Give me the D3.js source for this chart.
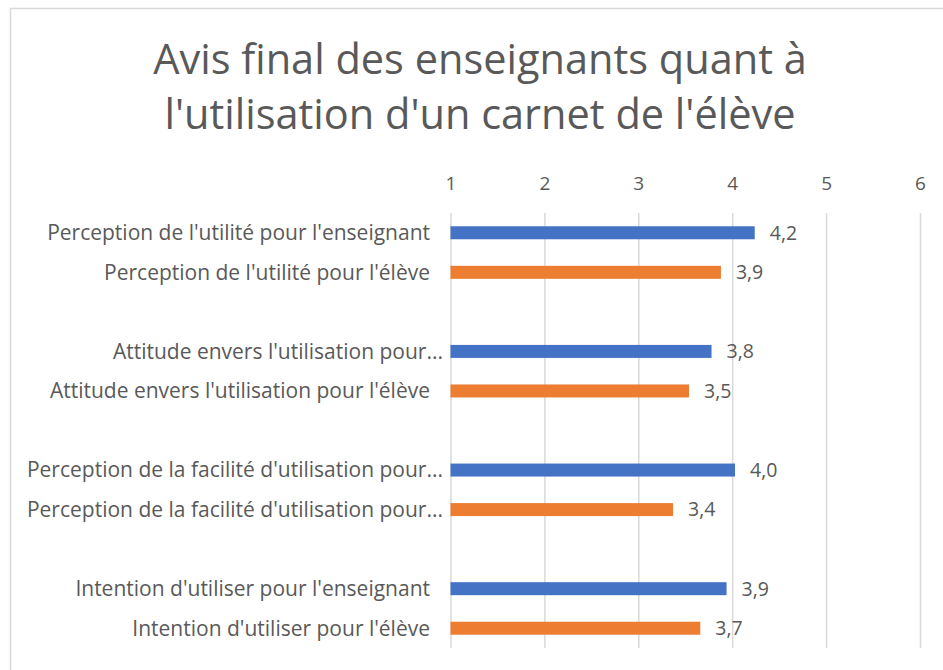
<!DOCTYPE html>
<html>
<head>
<meta charset="utf-8">
<script src="https://cdn.jsdelivr.net/npm/d3@7"></script>
<style>
  body { margin: 0; background: #fff; }
  svg { display: block; font-family: "Open Sans", Lato, sans-serif; }
</style>
</head>
<body>
<svg width="943" height="670"></svg>
<script>
// Data
const categories = [
    "Perception de l'utilité pour l'enseignant",
    "Perception de l'utilité pour l'élève",
    "Attitude envers l'utilisation pour l'enseignant",
    "Attitude envers l'utilisation pour l'élève",
    "Perception de la facilité d'utilisation pour l'enseignant",
    "Perception de la facilité d'utilisation pour l'élève",
    "Intention d'utiliser pour l'enseignant",
    "Intention d'utiliser pour l'élève"
];
const values = [4.24, 3.88, 3.78, 3.54, 4.03, 3.37, 3.94, 3.66];
const groups = [0, 0, 1, 1, 2, 2, 3, 3];          // one empty row between groups
const series = ["enseignant", "élève", "enseignant", "élève", "enseignant", "élève", "enseignant", "élève"];
const tickValues = [1, 2, 3, 4, 5, 6];
const titleLines = ["Avis final des enseignants quant à", "l'utilisation d'un carnet de l'élève"];

let svg = d3.select("svg"),
    width = +svg.attr("width"),
    height = +svg.attr("height");

const plot = { left: 450.5, right: 920, top: 213, bottom: 648 };
const textColor = "#595959";

// chart frame (only top/left visible in the shot)
svg.append("rect")
    .attr("x", 10.5).attr("y", 8.5)
    .attr("width", width).attr("height", height)
    .attr("fill", "#fff")
    .attr("stroke", "#d9d9d9")
    .attr("stroke-width", 1.5)

// Title (one text, two lines)
svg.append("text")
    .attr("text-anchor", "middle")
    .style("font-size", "41.5px")
    .style("fill", textColor)
    .selectAll("tspan")
    .data(titleLines)
    .enter()
    .append("tspan")
    .attr("x", 480)
    .attr("y", (d, i) => 74 + i * 55)
    .text(d => d)

// Scales
let x = d3.scaleLinear()
    .domain([1, 6])
    .range([plot.left, plot.right])

let rowOf = (d, i) => i + groups[i];
let nRows = categories.length + d3.max(groups);
let y = d3.scaleBand()
    .domain(d3.range(nRows))
    .range([plot.top, plot.bottom])
    .padding(0)

let color = d3.scaleOrdinal()
    .domain(["enseignant", "élève"])
    .range(["#4472C4", "#ED7D31"])

// Grid + tick labels on top
let xAxis = svg.append("g")
    .attr("transform", `translate(0,${plot.top})`)
    .call(d3.axisTop(x)
        .tickValues(tickValues)
        .tickSize(-(plot.bottom - plot.top))
        .tickPadding(23)
        .tickFormat(d3.format("d")))

xAxis.select(".domain").remove()
xAxis.selectAll("line")
    .attr("stroke", "#d9d9d9")
    .attr("stroke-width", 1.5)
xAxis.selectAll("text")
    .style("font-family", "'Open Sans', sans-serif")
    .style("font-size", "19px")
    .style("fill", textColor)

// Bars
let barH = 13;
svg.append("g")
    .selectAll("rect")
    .data(values)
    .enter()
    .append("rect")
    .attr("x", x(1))
    .attr("y", (d, i) => y(rowOf(d, i)) + y.bandwidth() / 2 - barH / 2)
    .attr("width", d => x(d) - x(1))
    .attr("height", barH)
    .attr("fill", (d, i) => color(series[i]))

// Value labels
let fmt = d => d3.format(".1f")(d).replace(".", ",");
svg.append("g")
    .selectAll("text")
    .data(values)
    .enter()
    .append("text")
    .attr("x", d => x(d) + 15)
    .attr("y", (d, i) => y(rowOf(d, i)) + y.bandwidth() / 2)
    .attr("dy", "0.35em")
    .style("font-size", "19.5px")
    .style("fill", textColor)
    .text(fmt)

// Category labels, cut with "..." when too long (like Excel does)
let maxLabel = 420;
let labels = svg.append("g")
    .selectAll("text")
    .data(categories)
    .enter()
    .append("text")
    .attr("x", 430)
    .attr("y", (d, i) => y(rowOf(d, i)) + y.bandwidth() / 2)
    .attr("dy", "0.35em")
    .attr("text-anchor", "end")
    .style("font-size", "21px")
    .style("fill", textColor)
    .text(d => d)

labels.each(function(d) {
    let t = d3.select(this);
    if (this.getComputedTextLength() <= maxLabel - 13) return;
    let words = d.split(" ");
    t.attr("x", 443);
    while (words.length > 1) {
        words.pop();
        t.text(words.join(" ") + "...");
        if (this.getComputedTextLength() <= maxLabel) break;
    }
})
</script>
</body>
</html>
